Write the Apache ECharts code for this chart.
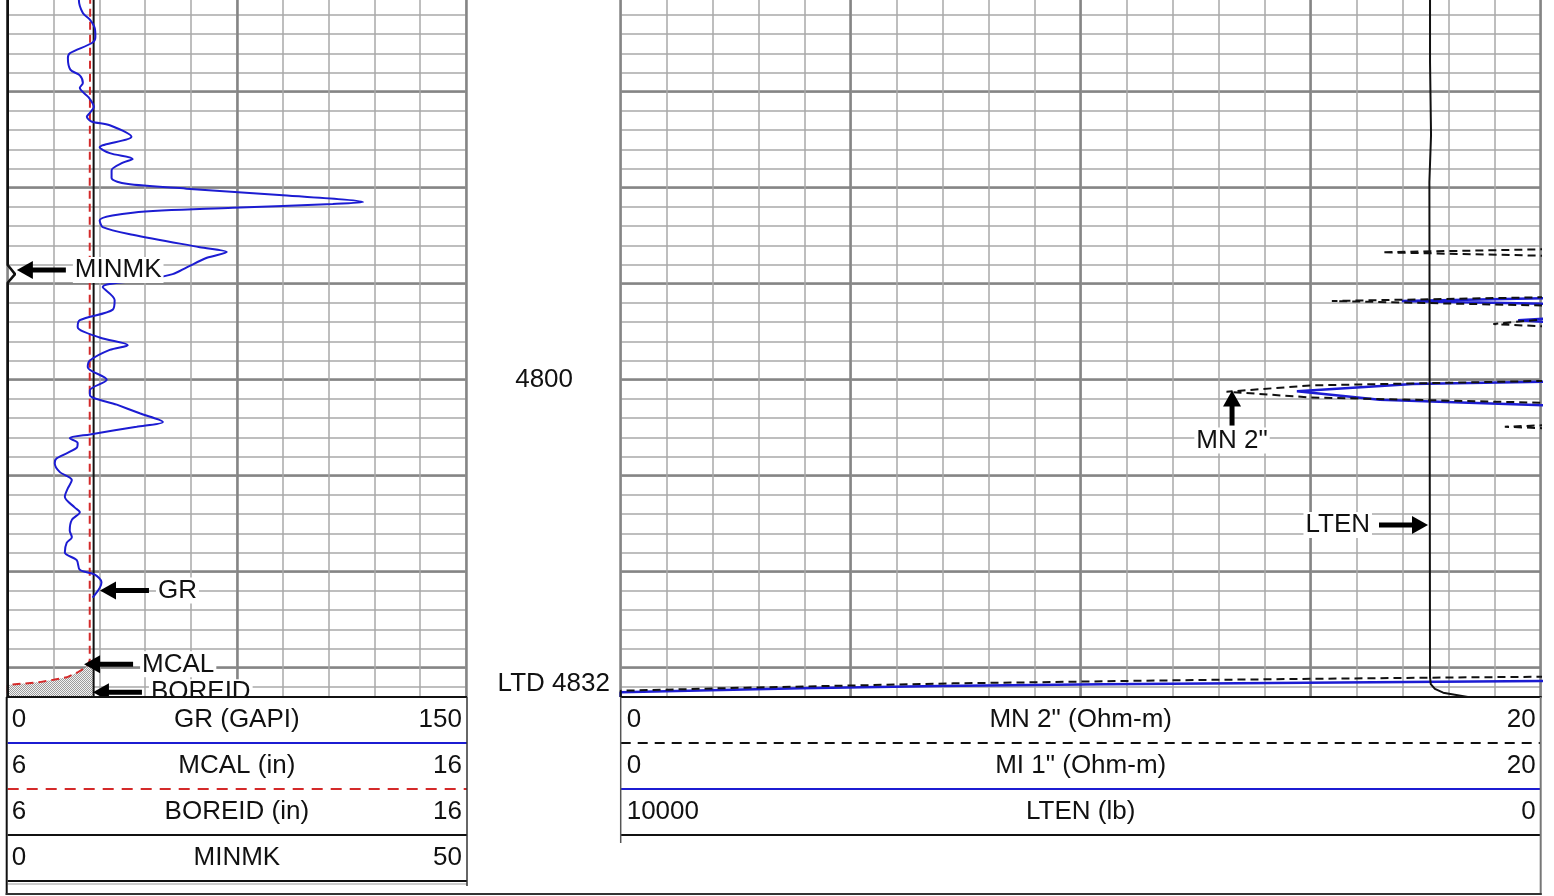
<!DOCTYPE html>
<html>
<head>
<meta charset="utf-8">
<title>Well log</title>
<script src="https://cdn.jsdelivr.net/npm/echarts@6/dist/echarts.min.js"></script>
<style>
html,body{margin:0;padding:0;background:#fff;overflow:hidden}
#chart{width:1554px;height:896px}
</style>
</head>
<body>
<div id="chart"></div>
<script>
// ---------------- data ----------------
const depthRange = [4760.45, 4833.05];

const grDepth = [4760, 4760.45, 4761.8, 4762.5, 4763.4, 4764.3, 4764.9, 4766.0, 4766.5, 4767.7, 4768.3, 4769.1, 4769.6,
  4770.6, 4771.6, 4772.2, 4772.6, 4773.1, 4773.5, 4774.7, 4775.8, 4776.4, 4777.0, 4777.4, 4778.2, 4779.0, 4779.6,
  4780.1, 4780.8, 4781.5, 4781.7, 4782.1, 4782.6, 4783.4, 4784.1, 4784.9, 4786.2, 4786.7, 4787.3, 4788.3, 4789.0,
  4789.6, 4790.35, 4791.7, 4792.7, 4793.8, 4794.5, 4795.6, 4796.4, 4796.9, 4798.0, 4798.7, 4800.0, 4801.1, 4801.6,
  4802.6, 4803.5, 4804.4, 4804.9, 4805.7, 4806.1, 4806.6, 4807.1, 4808.2, 4808.7, 4809.6, 4810.45, 4811.3, 4812.2,
  4813.3, 4813.8, 4814.6, 4815.7, 4816.4, 4817.0, 4818.0, 4818.8, 4819.8, 4820.3, 4821.1, 4821.7, 4822.7];
const grValue = [23.3, 23.3, 24.6, 26.9, 28.5, 28.7, 27.7, 20.3, 19.7, 20.5, 23.6, 24.6, 23.6,
  26.5, 28.2, 26.9, 25.9, 27.4, 33.4, 40.5, 30.1, 33.4, 40.9, 37.7, 34.0, 34.0, 38.9,
  58.5, 90.1, 116.3, 106.4, 73.7, 40.9, 30.1, 31.1, 40.9, 62.9, 71.7, 65.2, 58.6, 54.0,
  45.0, 31.1, 35.0, 34.4, 23.6, 22.9, 30.1, 39.3, 33.4, 26.9, 26.2, 32.4, 26.9, 26.9,
  35.7, 43.2, 50.8, 42.2, 26.9, 20.3, 22.9, 22.6, 16.0, 15.4, 17.0, 21.0, 19.7, 18.7,
  21.9, 23.6, 21.0, 20.3, 21.0, 19.3, 18.7, 22.6, 23.6, 28.5, 30.7, 30.1, 27.8];

const mcalDepth = [4760, 4780, 4800, 4829.2, 4829.6, 4830.0, 4830.5, 4831.0, 4831.25, 4831.5, 4831.65, 4831.8, 4833.1];
const mcalValue = [7.80, 7.79, 7.79, 7.79, 7.76, 7.69, 7.52, 7.29, 7.00, 6.70, 6.35, 6.0, 6.0];

const boreidDepth = [4760, 4833.1];
const boreidValue = [7.875, 7.875];

const minmkDepth = [4760, 4788.05, 4789.0, 4789.9, 4833.1];
const minmkValue = [0, 0, 0.8, 0, 0];

const mnDepth = [4760, 4786.0, 4786.39, 4786.73, 4787.11, 4787.5, 4791.0, 4791.39, 4791.8, 4792.3, 4792.7,
  4793.3, 4793.6, 4794.2, 4794.5, 4795.0, 4799.7, 4800.1, 4800.6, 4801.25, 4801.85, 4802.43, 4802.8,
  4804.3, 4804.7, 4804.9, 4805.1, 4805.5, 4830.5, 4830.94, 4831.04, 4831.28, 4831.63, 4832.08, 4832.4, 4833.1];
const mnValue = [30, 30, 20.3, 16.55, 20.3, 30, 30, 20.3, 15.46, 20.3, 30,
  30, 20.3, 18.97, 20.3, 30, 30, 20.3, 15.0, 13.17, 15.0, 20.3, 30,
  30, 20.3, 19.22, 20.3, 30, 30, 20.0, 17.5, 12.5, 7.23, 2.71, 0, 0];

const miDepth = [4760, 4791.2, 4791.5, 4791.8, 4792.1, 4792.4, 4793.3, 4793.6, 4793.8, 4794.05, 4794.3,
  4799.9, 4800.2, 4800.45, 4801.2, 4802.1, 4802.7, 4803.0, 4831.0, 4831.39, 4831.56, 4831.73, 4831.9, 4832.15, 4832.56, 4833.1];
const miValue = [30, 30, 20.3, 16.98, 20.3, 30, 30, 20.3, 19.51, 20.3, 30,
  30, 20.3, 17.22, 14.7, 16.5, 20.3, 30, 30, 20.0, 14.9, 10.5, 6.93, 3.92, 0, 0];

const ltenDepth = [4760, 4766.9, 4766.9, 4774.5, 4774.5, 4779.4, 4779.4, 4831.0, 4831.7, 4832.2, 4832.6, 4833.1];
const ltenValue = [1203, 1203, 1192, 1192, 1210, 1210, 1203, 1203, 1195, 1150, 1060, 760];

// header (scale) labels
const leftScaleMin = ['0', '6', '6', '0'];
const leftCurveNames = ['GR (GAPI)', 'MCAL (in)', 'BOREID (in)', 'MINMK'];
const leftScaleMax = ['150', '16', '16', '50'];
const rightScaleMin = ['0', '0', '10000'];
const rightCurveNames = ['MN 2" (Ohm-m)', 'MI 1" (Ohm-m)', 'LTEN (lb)'];
const rightScaleMax = ['20', '20', '0'];

// curve-name pointers: tip position (track scale value, depth)
const leftNoteLabels = ['MINMK', 'GR', 'MCAL', 'BOREID'];
const leftNoteValue = [3.0, 30.2, 25.0, 27.9];
const leftNoteDepth = [4788.57, 4821.95, 4829.65, 4832.55];
const rightNoteLabels = ['MN 2"', 'LTEN'];
const rightNoteValue = [13.29, 17.55];
const rightNoteDepth = [4801.13, 4815.14];

// depth track labels
const depthMarkLabels = ['4800', 'LTD 4832'];
const depthMarkDepth = [4800, 4832];
const depthMarkPos = [0.505, 0.93];

// ---------------- styles / layout ----------------
const FONT = '"Liberation Sans", Arial, Helvetica, sans-serif';
const FS = 26;
const BLUE = '#1c1cd2';
const RED = '#d42a2a';
const MINOR = '#a8a8a8';
const MAJOR = '#858585';
const LEFT_X = 7.7, LEFT_W = 458.3;
const RIGHT_X = 620.7, RIGHT_W = 920;
const HEAD_Y = 697, ROW_H = 46;

const zip = (vals, deps) => deps.map((d, i) => [vals[i], d]);

function hiddenAxis(gi, min, max, interval, splitColor, splitWidth, inverse) {
  const a = {
    type: 'value', gridIndex: gi, min: min, max: max, inverse: !!inverse,
    axisLine: { show: false }, axisTick: { show: false }, axisLabel: { show: false },
    splitLine: { show: !!splitColor, lineStyle: { color: splitColor || '#000', width: splitWidth || 1 } }
  };
  if (interval) a.interval = interval;
  return a;
}
// depth axis: min is not a whole foot, so ticks are niced via fixed min/max interval
function depthAxis(gi, step, splitColor, splitWidth) {
  const a = {
    type: 'value', gridIndex: gi, min: depthRange[0], max: depthRange[1], inverse: true,
    axisLine: { show: false }, axisTick: { show: false }, axisLabel: { show: false },
    splitLine: { show: !!splitColor, showMinLine: false, showMaxLine: false,
      lineStyle: { color: splitColor || '#000', width: splitWidth || 1 } }
  };
  if (step) { a.minInterval = step; a.maxInterval = step; a.splitNumber = Math.round((depthRange[1] - depthRange[0]) / step); }
  return a;
}

// stipple pattern for mudcake shading
const pc = document.createElement('canvas');
pc.width = 2; pc.height = 2;
const pctx = pc.getContext('2d');
pctx.fillStyle = '#f2f2f2'; pctx.fillRect(0, 0, 2, 2);
pctx.fillStyle = '#9c9c9c';
pctx.fillRect(0, 0, 1, 1); pctx.fillRect(1, 1, 1, 1);

function arrowRenderer(labels, dirs) {
  return function (params, api) {
    const i = params.dataIndex;
    const p = api.coord([api.value(0), api.value(1)]);
    const H = 16, W = 9, S = 2.5, L = 49;
    let head, shaft, tx, ty, align;
    const d = dirs[i];
    if (d === 'left') {
      head = [[p[0], p[1]], [p[0] + H, p[1] - W], [p[0] + H, p[1] + W]];
      shaft = { x: p[0] + H - 1, y: p[1] - S, width: L - H + 1, height: 2 * S };
      tx = p[0] + L + 7; ty = p[1]; align = 'left';
    } else if (d === 'right') {
      head = [[p[0], p[1]], [p[0] - H, p[1] - W], [p[0] - H, p[1] + W]];
      shaft = { x: p[0] - L, y: p[1] - S, width: L - H + 1, height: 2 * S };
      tx = p[0] - L - 7; ty = p[1]; align = 'right';
    } else {
      head = [[p[0], p[1]], [p[0] - W, p[1] + H], [p[0] + W, p[1] + H]];
      shaft = { x: p[0] - S, y: p[1] + H - 1, width: 2 * S, height: 36 - H };
      tx = p[0]; ty = p[1] + 50; align = 'center';
    }
    return {
      type: 'group',
      children: [
        { type: 'polygon', shape: { points: head }, style: { fill: '#000' } },
        { type: 'rect', shape: shaft, style: { fill: '#000' } },
        {
          type: 'text', x: tx, y: ty,
          style: {
            text: labels[i], fontSize: FS, fontFamily: FONT, fill: '#111',
            align: align, verticalAlign: 'middle', backgroundColor: '#fff', padding: [0, 2]
          }
        }
      ]
    };
  };
}

// ---------------- header graphics ----------------
const els = [];
function hl(x1, x2, y, stroke, w, dash) {
  els.push({ type: 'line', z: 50, shape: { x1: x1, y1: y, x2: x2, y2: y },
    style: { stroke: stroke, lineWidth: w, lineDash: dash || null } });
}
function vl(x, y1, y2, stroke, w) {
  els.push({ type: 'line', z: 50, shape: { x1: x, y1: y1, x2: x, y2: y2 },
    style: { stroke: stroke, lineWidth: w } });
}
function tx(x, y, s, align) {
  els.push({ type: 'text', z: 51, x: x, y: y,
    style: { text: s, fontSize: FS, fontFamily: FONT, fill: '#111', align: align, verticalAlign: 'middle',
      textAlign: align, textVerticalAlign: 'middle' } });
}
// white background under header
els.push({ type: 'rect', z: 49, shape: { x: 0, y: HEAD_Y, width: 1554, height: 896 - HEAD_Y }, style: { fill: '#fff' } });

const leftRowLine = [[BLUE, 2, null], [RED, 2, [11, 8]], ['#111', 2, null], ['#111', 2, null]];
for (let i = 0; i < leftCurveNames.length; i++) {
  const cy = HEAD_Y + ROW_H * i + 23;
  tx(LEFT_X + 4, cy, leftScaleMin[i], 'left');
  tx(LEFT_X + LEFT_W / 2, cy, leftCurveNames[i], 'center');
  tx(LEFT_X + LEFT_W - 4, cy, leftScaleMax[i], 'right');
  const s = leftRowLine[i];
  hl(LEFT_X, LEFT_X + LEFT_W + 1, HEAD_Y + ROW_H * (i + 1), s[0], s[1], s[2]);
}
hl(LEFT_X, LEFT_X + LEFT_W + 1, HEAD_Y + ROW_H * 4 + 3, '#999', 1);
const rightRowLine = [['#111', 2, [10, 7]], [BLUE, 2, null], ['#111', 2, null]];
for (let i = 0; i < rightCurveNames.length; i++) {
  const cy = HEAD_Y + ROW_H * i + 23;
  tx(RIGHT_X + 6, cy, rightScaleMin[i], 'left');
  tx(RIGHT_X + RIGHT_W / 2, cy, rightCurveNames[i], 'center');
  tx(RIGHT_X + RIGHT_W - 5, cy, rightScaleMax[i], 'right');
  const s = rightRowLine[i];
  hl(RIGHT_X, RIGHT_X + RIGHT_W, HEAD_Y + ROW_H * (i + 1), s[0], s[1], s[2]);
}
// borders
hl(LEFT_X - 1, LEFT_X + LEFT_W + 1, HEAD_Y, '#111', 2);
hl(RIGHT_X, RIGHT_X + RIGHT_W + 1, HEAD_Y, '#111', 2);
vl(LEFT_X - 1, HEAD_Y, 895, '#111', 2);
vl(LEFT_X + LEFT_W + 1, HEAD_Y, HEAD_Y + ROW_H * 4 + 5, '#333', 1.5);
vl(RIGHT_X, HEAD_Y, HEAD_Y + ROW_H * 3 + 8, '#555', 1.5);
vl(RIGHT_X + RIGHT_W, HEAD_Y, 895, '#777', 2);
hl(LEFT_X - 2, RIGHT_X + RIGHT_W + 1, 894, '#333', 2);

// ---------------- chart ----------------
const chart = echarts.init(document.getElementById('chart'), null, { renderer: 'canvas' });
const grids = [
  { left: LEFT_X, top: 0, width: LEFT_W, height: HEAD_Y },
  { left: LEFT_X + LEFT_W, top: 0, width: RIGHT_X - LEFT_X - LEFT_W, height: HEAD_Y },
  { left: RIGHT_X, top: 0, width: RIGHT_W, height: HEAD_Y }
];
const option = {
  animation: false,
  backgroundColor: '#fff',
  grid: grids,
  xAxis: [
    hiddenAxis(0, 0, 150, 15, MINOR, 1.5),          // 0 GR minor grid
    hiddenAxis(0, 0, 150, 75, MAJOR, 2.5),          // 1 GR major grid
    hiddenAxis(0, 6, 16, null, null),               // 2 MCAL / BOREID
    hiddenAxis(0, 0, 50, null, null),               // 3 MINMK
    hiddenAxis(1, 0, 1, null, null),                // 4 depth track
    hiddenAxis(2, 0, 20, 1, MINOR, 1.5),            // 5 MN / MI minor
    hiddenAxis(2, 0, 20, 5, MAJOR, 2.5),            // 6 major
    hiddenAxis(2, 0, 10000, null, null, null, true) // 7 LTEN reversed
  ],
  yAxis: [
    depthAxis(0, 2, MINOR, 1.5),
    depthAxis(0, 10, MAJOR, 2.5),
    depthAxis(1, null, null),
    depthAxis(2, 2, MINOR, 1.5),
    depthAxis(2, 10, MAJOR, 2.5)
  ],
  graphic: { elements: els },
  series: [
    {
      type: 'custom', name: 'mudcake', xAxisIndex: 2, yAxisIndex: 0, clip: true, z: 2,
      data: [[boreidValue[0], depthRange[1]]],
      renderItem: function (params, api) {
        const b = boreidValue[0];
        const pts = [];
        for (let i = 0; i < mcalDepth.length; i++) {
          const v = (b - mcalValue[i] > 0.15) ? mcalValue[i] : b;
          pts.push(api.coord([v, mcalDepth[i]]));
        }
        pts.push(api.coord([b, mcalDepth[mcalDepth.length - 1]]));
        pts.push(api.coord([b, mcalDepth[0]]));
        return { type: 'polygon', shape: { points: pts }, style: { fill: { image: pc, repeat: 'repeat' } } };
      }
    },
    {
      type: 'line', name: 'GR', xAxisIndex: 0, yAxisIndex: 0, data: zip(grValue, grDepth),
      symbol: 'none', smooth: 0.3, lineStyle: { color: BLUE, width: 2 }, z: 4
    },
    {
      type: 'line', name: 'BOREID', xAxisIndex: 2, yAxisIndex: 0, data: zip(boreidValue, boreidDepth),
      symbol: 'none', lineStyle: { color: '#111', width: 2 }, z: 3
    },
    {
      type: 'line', name: 'MCAL', xAxisIndex: 2, yAxisIndex: 0, data: zip(mcalValue, mcalDepth),
      symbol: 'none', lineStyle: { color: RED, width: 2, type: [8, 5] }, z: 3
    },
    {
      type: 'line', name: 'MINMK', xAxisIndex: 3, yAxisIndex: 0, data: zip(minmkValue, minmkDepth),
      symbol: 'none', lineStyle: { color: '#111', width: 2.6 }, z: 3
    },
    {
      type: 'custom', name: 'leftNotes', xAxisIndex: 0, yAxisIndex: 0, clip: true, z: 10,
      data: zip(leftNoteValue, leftNoteDepth),
      renderItem: arrowRenderer(leftNoteLabels, ['left', 'left', 'left', 'left'])
    },
    {
      type: 'custom', name: 'depthMarks', xAxisIndex: 4, yAxisIndex: 2, z: 10,
      data: zip(depthMarkPos, depthMarkDepth),
      renderItem: function (params, api) {
        const i = params.dataIndex;
        const p = api.coord([api.value(0), api.value(1)]);
        return { type: 'text', x: p[0], y: p[1] - (i === 1 ? 3 : 0),
          style: { text: depthMarkLabels[i], fontSize: FS, fontFamily: FONT, fill: '#111',
            align: i === 1 ? 'right' : 'center', verticalAlign: 'middle' } };
      }
    },
    {
      type: 'line', name: 'MN 2"', xAxisIndex: 5, yAxisIndex: 3, data: zip(mnValue, mnDepth),
      symbol: 'none', lineStyle: { color: '#111', width: 2, type: [8, 5] }, z: 4
    },
    {
      type: 'line', name: 'MI 1"', xAxisIndex: 5, yAxisIndex: 3, data: zip(miValue, miDepth),
      symbol: 'none', lineStyle: { color: BLUE, width: 2.5 }, z: 3
    },
    {
      type: 'line', name: 'LTEN', xAxisIndex: 7, yAxisIndex: 3, data: zip(ltenValue, ltenDepth),
      symbol: 'none', lineStyle: { color: '#111', width: 2 }, z: 3
    },
    {
      type: 'custom', name: 'rightNotes', xAxisIndex: 5, yAxisIndex: 3, clip: true, z: 10,
      data: zip(rightNoteValue, rightNoteDepth),
      renderItem: arrowRenderer(rightNoteLabels, ['up', 'right'])
    }
  ]
};
chart.setOption(option);
</script>
</body>
</html>
